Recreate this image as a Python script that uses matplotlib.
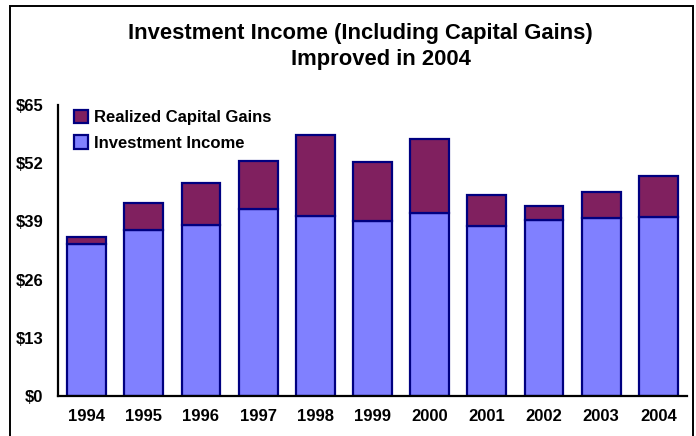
import matplotlib
matplotlib.use("Agg")
import matplotlib.pyplot as plt
from matplotlib.patches import Rectangle, Patch

years = ["1994", "1995", "1996", "1997", "1998", "1999", "2000", "2001", "2002", "2003", "2004"]
investment_income = [34.0, 37.0, 38.2, 41.8, 40.1, 39.2, 40.9, 37.9, 39.4, 39.7, 39.9]
realized_gains = [1.6, 6.1, 9.3, 10.8, 18.2, 13.1, 16.5, 6.9, 3.0, 5.9, 9.3]
y_ticks = [0, 13, 26, 39, 52, 65]
y_tick_labels = ["$0", "$13", "$26", "$39", "$52", "$65"]

plt.rcParams["font.family"] = ["Liberation Sans", "DejaVu Sans"]
plt.rcParams["font.weight"] = "bold"

W, H = 696, 436
fig = plt.figure(figsize=(W / 100, H / 100), dpi=100)
ax = fig.add_axes([58 / W, 1 - 396 / H, (687 - 58) / W, (396 - 105) / H])

inv_color = "#8080FF"
gain_color = "#80205F"
edge = "#000080"

x = list(range(len(years)))
ax.bar(x, investment_income, width=0.68, color=inv_color, edgecolor=edge, linewidth=1.6)
ax.bar(x, realized_gains, bottom=investment_income, width=0.68, color=gain_color,
       edgecolor=edge, linewidth=1.6)

ax.set_xlim(-0.5, len(years) - 0.5)
ax.set_ylim(0, 65)
ax.set_xticks(x)
ax.set_xticklabels(years, fontsize=12, fontweight="bold")
ax.set_yticks(y_ticks)
ax.set_yticklabels(y_tick_labels, fontsize=12, fontweight="bold")
ax.tick_params(axis="both", length=0)
ax.tick_params(axis="x", pad=9)
ax.tick_params(axis="y", pad=10.5)
for s in ("top", "right"):
    ax.spines[s].set_visible(False)
for s in ("left", "bottom"):
    ax.spines[s].set_linewidth(1.6)
    ax.spines[s].set_color("black")

handles = [Patch(facecolor=gain_color, edgecolor=edge, linewidth=1.6, label="Realized Capital Gains"),
           Patch(facecolor=inv_color, edgecolor=edge, linewidth=1.6, label="Investment Income")]
ax.legend(handles=handles, loc="upper left", bbox_to_anchor=(0.002, 1.035), frameon=False,
          prop={"size": 12, "weight": "bold"}, handlelength=0.85, handleheight=0.85,
          handletextpad=0.35, labelspacing=0.6)

fig.text(360 / W, 1 - 33 / H, "Investment Income (Including Capital Gains)", ha="center",
         va="center", fontsize=15.8, fontweight="bold")
fig.text(381 / W, 1 - 59 / H, "Improved in 2004", ha="center", va="center",
         fontsize=15.8, fontweight="bold")

fig.patches.append(Rectangle((10 / W, -0.05), (693 - 10) / W, 1.05 - 6 / H,
                             transform=fig.transFigure, fill=False, edgecolor="black",
                             linewidth=1.4))

fig.savefig("out.png", dpi=100)
